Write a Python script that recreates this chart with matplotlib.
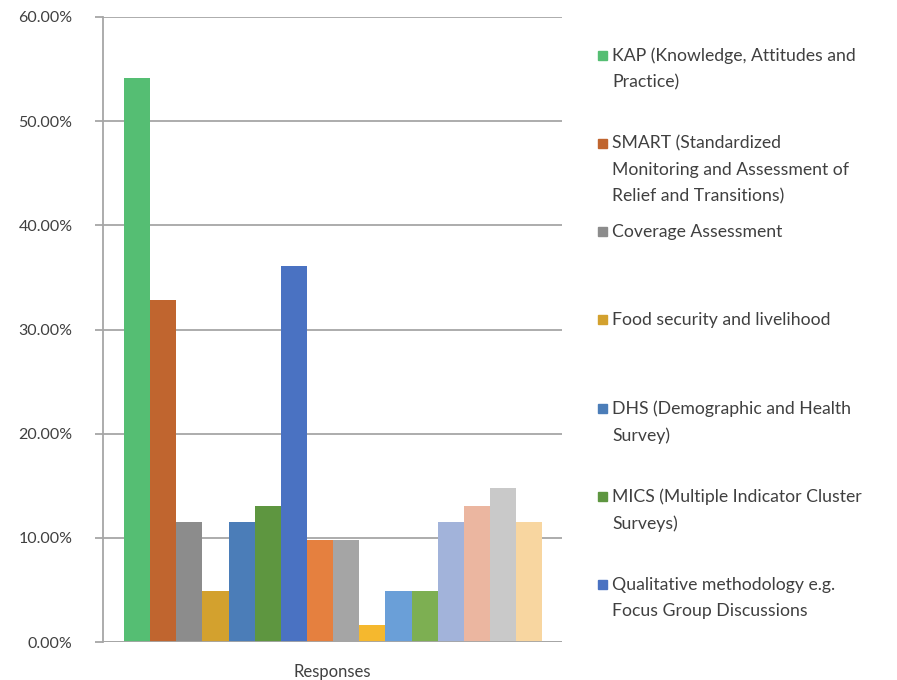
import matplotlib.pyplot as plt
from matplotlib.patches import Rectangle
from matplotlib.ticker import FuncFormatter

# ============================================
# data (share of responses, %)
# ============================================
values = [54.1, 32.8, 11.5, 4.9, 11.5, 13.1, 36.1, 9.8, 9.8, 1.6,
          4.9, 4.9, 11.5, 13.1, 14.8, 11.5]
colors = ["#55BE73", "#C0652F", "#8C8C8C", "#D3A12E", "#4B7DB8", "#5E9640",
          "#4A72C2", "#E5803F", "#A5A5A5", "#F5B82E", "#6A9FD8", "#7DAF52",
          "#A2B3DA", "#EBB6A0", "#C9C9C9", "#F8D6A0"]
legend_labels = ["KAP (Knowledge, Attitudes and\nPractice)",
                 "SMART (Standardized\nMonitoring and Assessment of\nRelief and Transitions)",
                 "Coverage Assessment",
                 "Food security and livelihood",
                 "DHS (Demographic and Health\nSurvey)",
                 "MICS (Multiple Indicator Cluster\nSurveys)",
                 "Qualitative methodology e.g.\nFocus Group Discussions"]
yticks = [0, 10, 20, 30, 40, 50, 60]
xlabel = "Responses"

plt.rcParams['font.family'] = ['Lato', 'DejaVu Sans']
txt = "#404040"

fig = plt.figure(figsize=(8.97, 6.8), dpi=100)
ax = fig.add_axes([103 / 897, 38 / 680, 459 / 897, 625 / 680])

xs = list(range(len(values)))
ax.bar(xs, values, width=1.0, color=colors, zorder=3)

ax.set_xlim(-1.3, 16.25)
ax.set_ylim(0, 60)
ax.set_yticks(yticks)
ax.yaxis.set_major_formatter(FuncFormatter(lambda v, p: "%.2f%%" % v))
ax.grid(axis="y", color="#A6A6A6", linewidth=1.3, zorder=0)
ax.set_xticks([])
ax.set_xlabel(xlabel, fontsize=12, color=txt, labelpad=16)

for s in ["top", "right", "bottom"]:
    ax.spines[s].set_visible(False)
ax.spines["left"].set_color("#A6A6A6")
ax.spines["left"].set_linewidth(1.3)
ax.tick_params(axis="y", length=6, color="#A6A6A6", width=1.3,
               labelsize=11.5, labelcolor=txt, pad=16)
ax.axhline(0, color="#A6A6A6", linewidth=1.3, zorder=4)

# legend drawn by hand, Excel style fixed slots
y0 = 55
step = 88.3
for i, lab in enumerate(legend_labels):
    yc = 680 - (y0 + i * step)
    fig.patches.append(Rectangle((598 / 897, (yc - 4.5) / 680), 9 / 897, 9 / 680,
                                 transform=fig.transFigure, color=colors[i]))
    fig.text(612 / 897, (yc + 8) / 680, lab, fontsize=12.7, color=txt,
             va="top", ha="left", linespacing=1.8)

fig.savefig("out.png", dpi=100)
